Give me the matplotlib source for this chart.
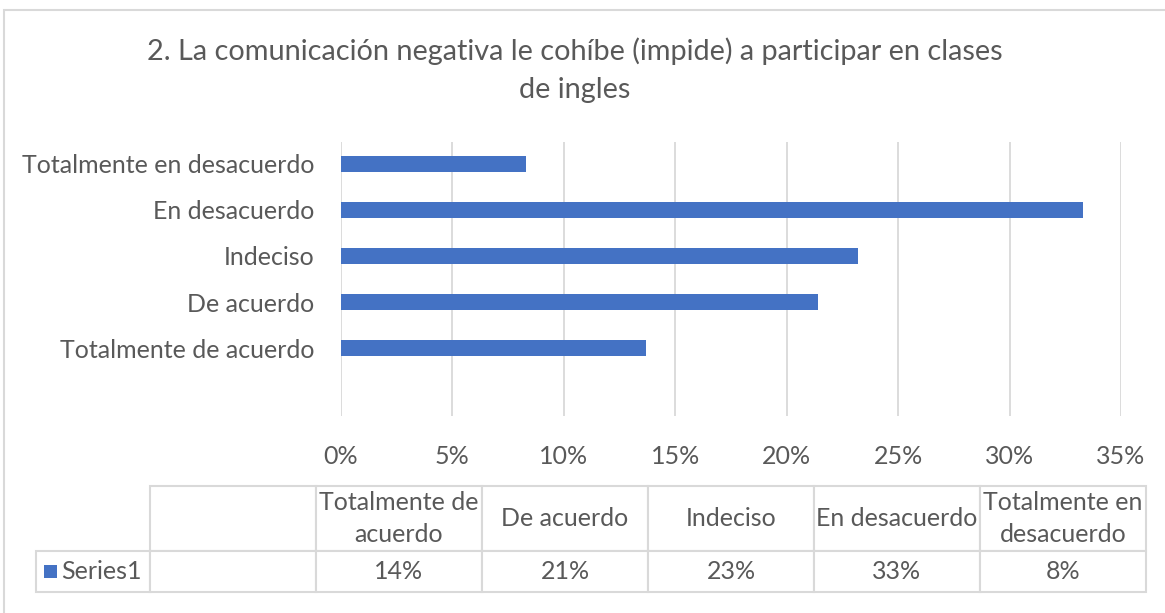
import numpy as np
import matplotlib
matplotlib.use("Agg")
import matplotlib.pyplot as plt
from matplotlib.table import Table
from matplotlib.patches import Rectangle

# Data (bottom to top in the bar chart, left to right in the table)
categories = ["Totalmente de acuerdo", "De acuerdo", "Indeciso",
              "En desacuerdo", "Totalmente en desacuerdo"]
table_headers = ["Totalmente de\nacuerdo", "De acuerdo", "Indeciso",
                 "En desacuerdo", "Totalmente en\ndesacuerdo"]
values = [0.137, 0.214, 0.232, 0.333, 0.083]
series_name = "Series1"
xticks = [0, 0.05, 0.10, 0.15, 0.20, 0.25, 0.30, 0.35]
title = "2. La comunicación negativa le cohíbe (impide) a participar en clases\nde ingles"

W, H = 1165, 613
txt = "#595959"
grid = "#d9d9d9"
blue = "#4472C4"
plt.rcParams['font.family'] = ['Lato', 'DejaVu Sans']

fig = plt.figure(figsize=(W / 100, H / 100), dpi=100)

# outer chart frame
fig.patches.append(Rectangle((4 / W, -0.1), 1.2, (H - 10) / H + 0.1,
                             transform=fig.transFigure, fill=False,
                             edgecolor=grid, linewidth=1.5))

fig.text(575 / W, 1 - 70 / H, title, ha="center", va="center",
         fontsize=20.8, color=txt, linespacing=1.6)

# bar chart
x0, x1, ytop, ybot = 341, 1121, 142, 416
ax = fig.add_axes([x0 / W, 1 - ybot / H, (x1 - x0) / W, (ybot - ytop) / H])
y = np.arange(len(categories))
ax.barh(y, values, height=0.35, color=blue, zorder=3)
ax.set_xlim(0, 0.35)
ax.set_ylim(-1.478, 4.478)
ax.set_xticks(xticks)
ax.set_xticklabels([f"{int(round(t * 100))}%" for t in xticks])
ax.set_yticks(y)
ax.set_yticklabels(categories)
ax.xaxis.grid(True, color=grid, linewidth=1.3, zorder=0)
for s in ax.spines.values():
    s.set_visible(False)
ax.tick_params(axis="x", length=0, pad=21, labelsize=18, labelcolor=txt)
ax.tick_params(axis="y", length=0, pad=19, labelsize=18, labelcolor=txt)

# data table
tx0, tx1, ty0, ty1 = 36, 1146, 486, 592
tab_ax = fig.add_axes([tx0 / W, 1 - ty1 / H, (tx1 - tx0) / W, (ty1 - ty0) / H])
tab_ax.axis("off")
tw = tx1 - tx0
th = ty1 - ty0
first_w = 114 / tw
col_w = 166 / tw
head_h = 65 / th
row_h = 41 / th

table = Table(tab_ax, bbox=[0, 0, 1, 1])
c = table.add_cell(0, 0, width=first_w, height=head_h, text="", facecolor="white")
c.visible_edges = ""
table.add_cell(0, 1, width=col_w, height=head_h, text="", facecolor="white")
table.add_cell(1, 0, width=first_w, height=row_h, text="", facecolor="white")
table.add_cell(1, 1, width=col_w, height=row_h, text="", facecolor="white")
for j, (hdr, v) in enumerate(zip(table_headers, values)):
    table.add_cell(0, j + 2, width=col_w, height=head_h, text=hdr,
                   loc="center", facecolor="white")
    table.add_cell(1, j + 2, width=col_w, height=row_h, text=f"{v:.0%}",
                   loc="center", facecolor="white")
table.auto_set_font_size(False)
for cell in table.get_celld().values():
    cell.set_edgecolor(grid)
    cell.set_linewidth(1.5)
    cell.get_text().set_fontsize(18)
    cell.get_text().set_color(txt)
    cell.get_text().set_linespacing(1.45)
tab_ax.add_table(table)

# legend key + series name in the first cell
tab_ax.add_patch(Rectangle((8 / tw, row_h / 2 - 6.5 / th), 13 / tw, 13 / th,
                           transform=tab_ax.transAxes, facecolor=blue, edgecolor="none"))
tab_ax.text(25 / tw, row_h / 2, series_name, transform=tab_ax.transAxes,
            ha="left", va="center", fontsize=18, color=txt)

fig.savefig("out.png", dpi=100)
